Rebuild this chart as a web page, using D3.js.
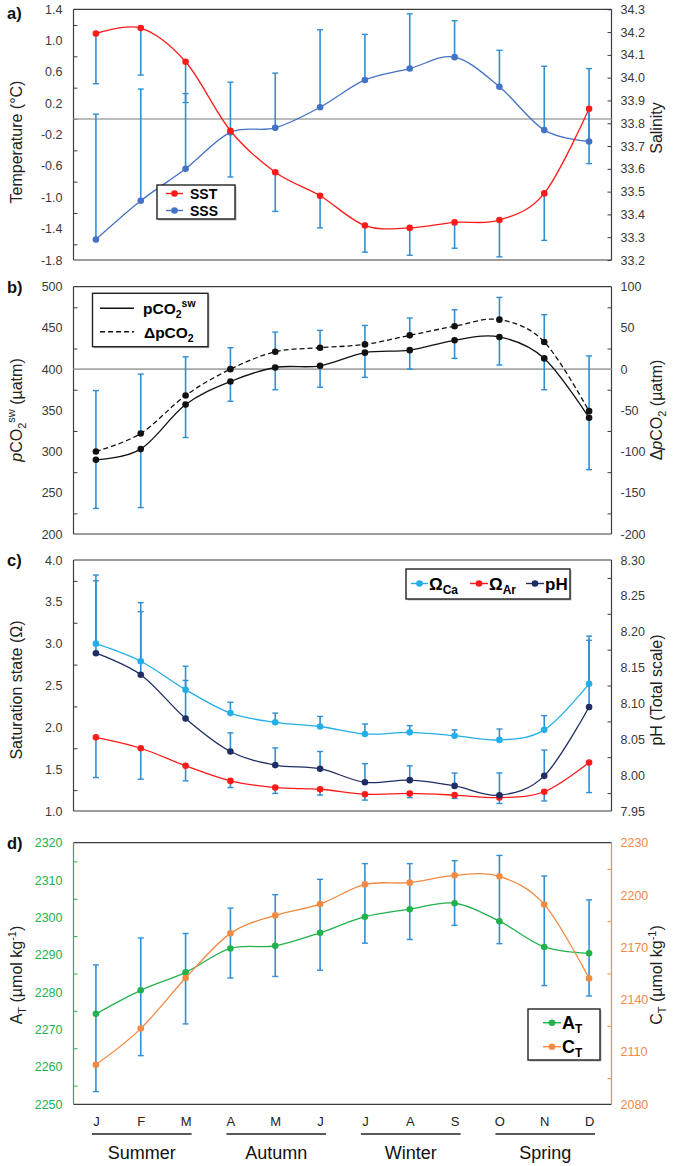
<!DOCTYPE html>
<html><head><meta charset="utf-8">
<script src="https://cdn.jsdelivr.net/npm/d3@7"></script>
<style>
body{margin:0;background:#fff}
svg text{font-family:"Liberation Sans",Arial,sans-serif}
</style>
</head><body>
<svg id="chart" width="685" height="1166"></svg>
<script>
// ---------------- DATA ----------------
const months = ["J","F","M","A","M","J","J","A","S","O","N","D"];
const seasons = ["Summer","Autumn","Winter","Spring"];
const seasonFirst = [0,3,6,9];
const seasonLast = [2,5,8,11];

// a) temperature & salinity
const sst        = [1.09, 1.16, 0.73, -0.15, -0.68, -0.98, -1.36, -1.39, -1.32, -1.29, -0.95, 0.13];
const sstErrLow  = [0.45, 0.56, 0.21, -0.74, -1.18, -1.39, -1.70, -1.74, -1.65, -1.76, -1.55, -0.57];
const sss        = [33.29, 33.46, 33.60, 33.76, 33.78, 33.87, 33.99, 34.04, 34.09, 33.96, 33.77, 33.72];
const sssErrHigh = [33.84, 33.95, 33.93, 33.98, 34.02, 34.21, 34.19, 34.28, 34.25, 34.12, 34.05, 34.04];
const tempTicks  = ["-1.8","-1.4","-1.0","-0.6","-0.2","0.2","0.6","1.0","1.4"];
const salTicks   = ["33.2","33.3","33.4","33.5","33.6","33.7","33.8","33.9","34.0","34.1","34.2","34.3"];

// b) pCO2
const pco2         = [290, 303, 357, 385, 402, 404, 420, 423, 435, 439, 413, 341];
const pco2ErrLow   = [231, 232, 317, 361, 375, 378, 390, 400, 413, 405, 375, 278];
const dpco2        = [-100, -78, -32, 0, 21, 26, 30, 41, 52, 60, 33, -51];
const dpco2ErrHigh = [-26, -6, 15, 26, 45, 47, 53, 62, 72, 87, 66, 16];
const pco2Ticks    = ["200","250","300","350","400","450","500"];
const dpco2Ticks   = ["-200","-150","-100","-50","0","50","100"];

// c) saturation states & pH
const omegaCa        = [3.00, 2.79, 2.45, 2.17, 2.06, 2.01, 1.92, 1.94, 1.90, 1.85, 1.97, 2.52];
const omegaCaErrHigh = [3.82, 3.49, 2.73, 2.30, 2.17, 2.13, 2.04, 2.02, 1.97, 1.98, 2.14, 3.09];
const omegaAr        = [1.88, 1.75, 1.54, 1.36, 1.28, 1.26, 1.20, 1.21, 1.19, 1.16, 1.23, 1.58];
const omegaArErrLow  = [1.40, 1.38, 1.36, 1.28, 1.21, 1.19, 1.13, 1.16, 1.15, 1.09, 1.12, 1.22];
const pH             = [8.170, 8.140, 8.079, 8.033, 8.014, 8.009, 7.990, 7.993, 7.985, 7.972, 7.999, 8.095];
const pHErrHigh      = [8.271, 8.228, 8.132, 8.059, 8.038, 8.033, 8.016, 8.013, 8.003, 8.003, 8.035, 8.188];
const omegaTicks     = ["1.0","1.5","2.0","2.5","3.0","3.5","4.0"];
const pHTicks        = ["7.95","8.00","8.05","8.10","8.15","8.20","8.25","8.30"];

// d) AT & CT
const alk        = [2274.2, 2280.5, 2285.3, 2291.7, 2292.4, 2295.9, 2300.2, 2302.2, 2303.8, 2299.0, 2292.1, 2290.4];
const alkErrHigh = [2287.3, 2294.5, 2295.7, 2302.5, 2306.1, 2310.2, 2314.4, 2314.4, 2315.2, 2316.6, 2311.1, 2304.7];
const dic        = [2102.7, 2123.4, 2152.4, 2178.0, 2188.3, 2194.8, 2206.1, 2207.1, 2211.3, 2210.7, 2194.6, 2152.2];
const dicErrLow  = [2087.3, 2107.9, 2126.1, 2152.4, 2153.3, 2156.9, 2172.4, 2174.5, 2182.6, 2172.1, 2148.1, 2142.1];
const alkTicks   = ["2250","2260","2270","2280","2290","2300","2310","2320"];
const dicTicks   = ["2080","2110","2140","2170","2200","2230"];

// ---------------- DRAW ----------------
const svg = d3.select("#chart");
const L = 73.5, R = 611.5;
const x = d3.scalePoint().domain(d3.range(12)).range([L, R]).padding(0.5);
const ERR = "#2f8fd6";
const smooth = d3.curveCatmullRom.alpha(0);
const AXC = "#3c3c3c";
const TXT = "#3a3a3a";

function mids(arr){ const n = arr.map(Number); return d3.pairs(n).map(p => (p[0]+p[1])/2); }

function axes(top, bottom, yL, yR, lt, rt, o){
  o = o || {};
  const g = svg.append("g");
  const lc = o.leftColor || AXC, rc = o.rightColor || AXC;
  const ltc = o.leftText || TXT, rtc = o.rightText || TXT;
  const gl = g.append("g").attr("transform", `translate(${L},0)`)
    .call(d3.axisLeft(yL).tickValues(lt.map(Number)).tickSize(0).tickPadding(11)
      .tickFormat((d,i) => lt[i]));
  gl.select(".domain").remove();
  gl.selectAll("text").attr("font-size", 12.5).attr("fill", ltc);
  const lticks = o.leftMajorTicks ? lt.map(Number) : mids(lt);
  g.append("g").attr("transform", `translate(${L},0)`)
    .call(d3.axisRight(yL).tickValues(lticks).tickSize(4).tickFormat(""))
    .call(s => s.select(".domain").remove())
    .selectAll("line").attr("stroke", lc);
  const gr = g.append("g").attr("transform", `translate(${R},0)`)
    .call(d3.axisRight(yR).tickValues(rt.map(Number)).tickSize(0).tickPadding(9)
      .tickFormat((d,i) => rt[i]));
  gr.select(".domain").remove();
  gr.selectAll("text").attr("font-size", 12.5).attr("fill", rtc);
  const rticks = o.rightMajorTicks ? rt.map(Number) : mids(rt);
  g.append("g").attr("transform", `translate(${R},0)`)
    .call(d3.axisLeft(yR).tickValues(rticks).tickSize(4).tickFormat(""))
    .call(s => s.select(".domain").remove())
    .selectAll("line").attr("stroke", rc);
  g.append("line").attr("x1",L).attr("x2",R).attr("y1",top).attr("y2",top).attr("stroke",AXC).attr("stroke-width",1.2);
  g.append("line").attr("x1",L).attr("x2",R).attr("y1",bottom).attr("y2",bottom).attr("stroke",AXC).attr("stroke-width",1.2);
  g.append("line").attr("x1",L).attr("x2",L).attr("y1",top).attr("y2",bottom).attr("stroke",lc).attr("stroke-width",1.2);
  g.append("line").attr("x1",R).attr("x2",R).attr("y1",top).attr("y2",bottom).attr("stroke",rc).attr("stroke-width",1.2);
}

function errBar(g, i, y0, y1){
  const xx = x(i);
  g.append("line").attr("x1",xx).attr("x2",xx).attr("y1",y0).attr("y2",y1)
    .attr("stroke",ERR).attr("stroke-width",1.6);
  g.append("line").attr("x1",xx-3).attr("x2",xx+3).attr("y1",y1).attr("y2",y1)
    .attr("stroke",ERR).attr("stroke-width",1.4);
}

function series(vals, y, color, dash){
  const g = svg.append("g");
  g.append("path").datum(vals)
    .attr("d", d3.line().x((d,i)=>x(i)).y(d=>y(d)).curve(smooth))
    .attr("fill","none").attr("stroke",color).attr("stroke-width",1.3)
    .attr("stroke-dasharray", dash || null);
  g.selectAll("circle").data(vals).join("circle")
    .attr("cx",(d,i)=>x(i)).attr("cy",d=>y(d)).attr("r",3.3).attr("fill",color);
}

function panelLabel(txt, yb){
  svg.append("text").attr("x",7).attr("y",yb).attr("font-size",16.5).attr("font-weight","bold")
    .attr("fill","#111").text(txt);
}

function yTitle(xc, yc, build){
  const t = svg.append("text").attr("transform",`translate(${xc},${yc}) rotate(-90)`)
    .attr("text-anchor","middle").attr("font-size",16).attr("fill","#222");
  build(t);
  return t;
}

function legendBox(x0,y0,w,h){
  svg.append("rect").attr("x",x0+1.5).attr("y",y0+1.5).attr("width",w).attr("height",h)
    .attr("fill","#bbb");
  svg.append("rect").attr("x",x0).attr("y",y0).attr("width",w).attr("height",h)
    .attr("fill","#fff").attr("stroke","#222").attr("stroke-width",1.4);
}
function legendLine(x0,x1,y,color,marker,dash){
  svg.append("line").attr("x1",x0).attr("x2",x1).attr("y1",y).attr("y2",y)
    .attr("stroke",color).attr("stroke-width",1.4).attr("stroke-dasharray",dash||null);
  if (marker) svg.append("circle").attr("cx",(x0+x1)/2).attr("cy",y).attr("r",3.3).attr("fill",color);
}

// ===== Panel a =====
{
  const top = 9.3, bottom = 260;
  const yT = d3.scaleLinear().domain([-1.8, 1.4]).range([bottom, top]);
  const yS = d3.scaleLinear().domain([33.2, 34.3]).range([bottom, top]);
  axes(top, bottom, yT, yS, tempTicks, salTicks, {rightMajorTicks:true});
  svg.append("line").attr("x1",L).attr("x2",R).attr("y1",yT(0)).attr("y2",yT(0))
    .attr("stroke","#a6a6a6").attr("stroke-width",1.6);
  const eg = svg.append("g");
  sst.forEach((v,i)=>errBar(eg,i,yT(v),yT(sstErrLow[i])));
  sss.forEach((v,i)=>errBar(eg,i,yS(v),yS(sssErrHigh[i])));
  series(sss, yS, "#4472c4");
  series(sst, yT, "#ff1a1a");
  panelLabel("a)", 19);
  yTitle(22, 142, t => t.text("Temperature (°C)"));
  yTitle(662, 128, t => t.text("Salinity"));
  legendBox(157,185,78,34);
  legendLine(166,183,193.5,"#ff1a1a",true);
  legendLine(166,183,210.5,"#4472c4",true);
  svg.append("text").attr("x",190).attr("y",198.5).attr("font-size",14).attr("font-weight","bold").text("SST");
  svg.append("text").attr("x",190).attr("y",215.5).attr("font-size",14).attr("font-weight","bold").text("SSS");
}

// ===== Panel b =====
{
  const top = 286.7, bottom = 534;
  const yP = d3.scaleLinear().domain([200, 500]).range([bottom, top]);
  const yD = d3.scaleLinear().domain([-200, 100]).range([bottom, top]);
  axes(top, bottom, yP, yD, pco2Ticks, dpco2Ticks);
  svg.append("line").attr("x1",L).attr("x2",R).attr("y1",yP(400)).attr("y2",yP(400))
    .attr("stroke","#a6a6a6").attr("stroke-width",1.6);
  const eg = svg.append("g");
  pco2.forEach((v,i)=>errBar(eg,i,yP(v),yP(pco2ErrLow[i])));
  dpco2.forEach((v,i)=>errBar(eg,i,yD(v),yD(dpco2ErrHigh[i])));
  series(dpco2, yD, "#111", "5,3");
  series(pco2, yP, "#111");
  panelLabel("b)", 293);
  yTitle(22, 410, t => {
    t.append("tspan").attr("font-style","italic").text("p");
    t.append("tspan").text("CO");
    t.append("tspan").attr("font-size",11).attr("dy",4).text("2");
    t.append("tspan").attr("font-size",11).attr("dy",-11).text("sw");
    t.append("tspan").attr("dy",7).text(" (µatm)");
  });
  yTitle(662, 410, t => {
    t.append("tspan").text("Δ");
    t.append("tspan").attr("font-style","italic").text("p");
    t.append("tspan").text("CO");
    t.append("tspan").attr("font-size",11).attr("dy",4).text("2");
    t.append("tspan").attr("dy",-4).text(" (µatm)");
  });
  legendBox(92.5,293.3,115.5,53.4);
  legendLine(100,134,308.3,"#111",false);
  legendLine(100,134,331.7,"#111",false,"5,3");
  const t1 = svg.append("text").attr("x",143).attr("y",313.5).attr("font-size",15.5).attr("font-weight","bold");
  t1.append("tspan").text("pCO");
  t1.append("tspan").attr("font-size",10.5).attr("dy",4).text("2");
  t1.append("tspan").attr("font-size",10.5).attr("dy",-11).text("sw");
  const t2 = svg.append("text").attr("x",144).attr("y",337.5).attr("font-size",15.5).attr("font-weight","bold");
  t2.append("tspan").text("ΔpCO");
  t2.append("tspan").attr("font-size",10.5).attr("dy",4).text("2");
}

// ===== Panel c =====
{
  const top = 560, bottom = 811;
  const yO = d3.scaleLinear().domain([1.0, 4.0]).range([bottom, top]);
  const yH = d3.scaleLinear().domain([7.95, 8.30]).range([bottom, top]);
  axes(top, bottom, yO, yH, omegaTicks, pHTicks);
  const eg = svg.append("g");
  omegaCa.forEach((v,i)=>errBar(eg,i,yO(v),yO(omegaCaErrHigh[i])));
  pH.forEach((v,i)=>errBar(eg,i,yH(v),yH(pHErrHigh[i])));
  omegaAr.forEach((v,i)=>errBar(eg,i,yO(v),yO(omegaArErrLow[i])));
  series(omegaCa, yO, "#24aee8");
  series(omegaAr, yO, "#ff1a1a");
  series(pH, yH, "#1f2d63");
  panelLabel("c)", 566);
  yTitle(22, 690, t => t.text("Saturation state (Ω)"));
  yTitle(662, 690, t => t.text("pH (Total scale)"));
  legendBox(406,569,164,30);
  const ly = 583.5;
  legendLine(411,428,ly,"#24aee8",true);
  legendLine(470,488,ly,"#ff1a1a",true);
  legendLine(526,544,ly,"#1f2d63",true);
  const mk = (xx, main, sub) => {
    const t = svg.append("text").attr("x",xx).attr("y",ly+6).attr("font-size",17).attr("font-weight","bold");
    t.append("tspan").text(main);
    if (sub) t.append("tspan").attr("font-size",12).attr("dy",4).text(sub);
  };
  mk(429,"Ω","Ca"); mk(489,"Ω","Ar"); mk(545,"pH");
}

// ===== Panel d =====
{
  const top = 842.7, bottom = 1104.3;
  const yA = d3.scaleLinear().domain([2250, 2320]).range([bottom, top]);
  const yC = d3.scaleLinear().domain([2080, 2230]).range([bottom, top]);
  const GRN = "#22b24c", ORG = "#f08a44";
  axes(top, bottom, yA, yC, alkTicks, dicTicks,
    {leftColor:GRN, rightColor:ORG, leftText:GRN, rightText:ORG});
  const eg = svg.append("g");
  alk.forEach((v,i)=>{
    const y0 = yC(dicErrLow[i]), y1 = yA(alkErrHigh[i]);
    errBar(eg,i,y0,y1);
    eg.append("line").attr("x1",x(i)-3).attr("x2",x(i)+3).attr("y1",y0).attr("y2",y0)
      .attr("stroke",ERR).attr("stroke-width",1.4);
  });
  series(alk, yA, GRN);
  series(dic, yC, ORG);
  panelLabel("d)", 849);
  yTitle(22, 975, t => {
    t.append("tspan").text("A");
    t.append("tspan").attr("font-size",11).attr("dy",4).text("T");
    t.append("tspan").attr("dy",-4).text(" (µmol kg");
    t.append("tspan").attr("font-size",11).attr("dy",-6).text("-1");
    t.append("tspan").attr("dy",6).text(")");
  });
  yTitle(662, 975, t => {
    t.append("tspan").text("C");
    t.append("tspan").attr("font-size",11).attr("dy",4).text("T");
    t.append("tspan").attr("dy",-4).text(" (µmol kg");
    t.append("tspan").attr("font-size",11).attr("dy",-6).text("-1");
    t.append("tspan").attr("dy",6).text(")");
  });
  legendBox(528,1009,72,51);
  legendLine(543,561,1022.7,GRN,true);
  legendLine(543,561,1046.7,ORG,true);
  const mk = (yy, main) => {
    const t = svg.append("text").attr("x",562).attr("y",yy+6.5).attr("font-size",18).attr("font-weight","bold");
    t.append("tspan").text(main);
    t.append("tspan").attr("font-size",12).attr("dy",4).text("T");
  };
  mk(1022.7,"A"); mk(1046.7,"C");

  const gx = svg.append("g").attr("transform",`translate(0,${bottom})`)
    .call(d3.axisBottom(x).tickSize(0).tickPadding(12).tickFormat(i => months[i]));
  gx.select(".domain").remove();
  gx.selectAll("text").attr("font-size",13).attr("fill","#222");
  seasons.forEach((s,k)=>{
    const x0 = x(seasonFirst[k]) - 4, x1 = x(seasonLast[k]) + 6;
    svg.append("line").attr("x1",x0).attr("x2",x1).attr("y1",1134).attr("y2",1134)
      .attr("stroke","#222").attr("stroke-width",1.5);
    svg.append("text").attr("x",(x0+x1)/2).attr("y",1159).attr("text-anchor","middle")
      .attr("font-size",18).attr("fill","#111").text(s);
  });
}
</script>
</body></html>
